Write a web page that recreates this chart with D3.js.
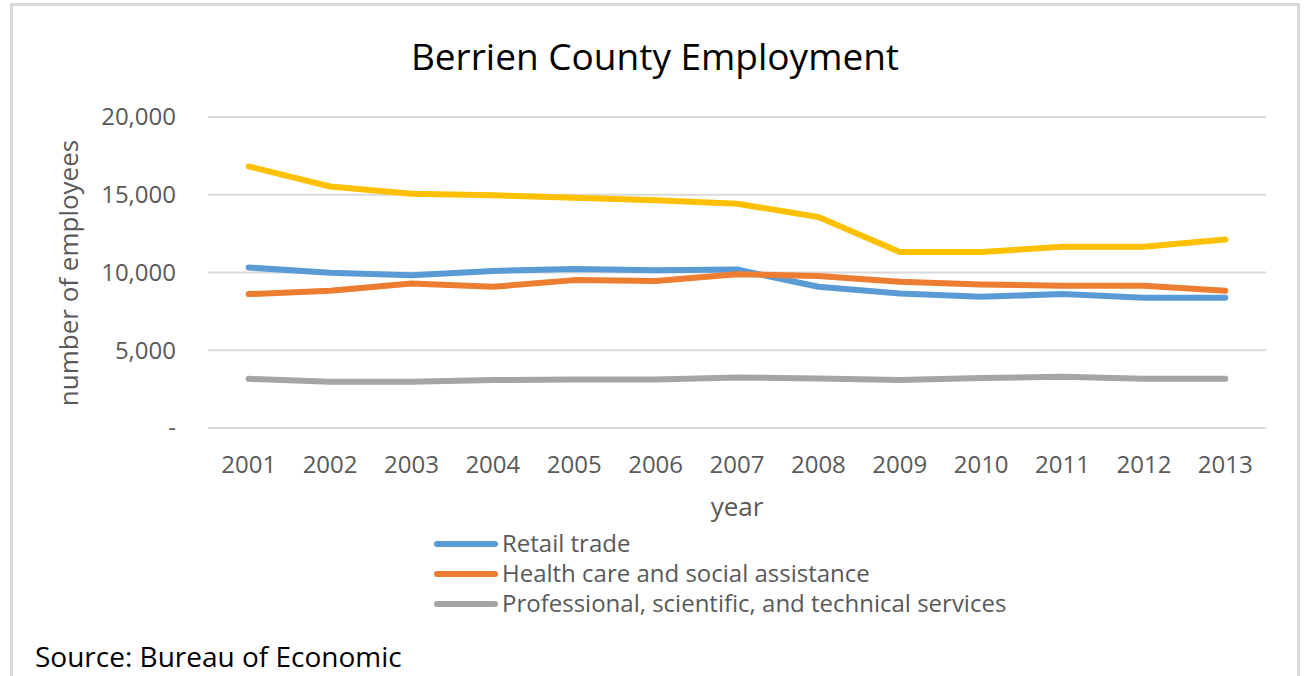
<!DOCTYPE html>
<html>
<head>
<meta charset="utf-8">
<script src="https://cdn.jsdelivr.net/npm/d3@7"></script>
<style>
  html, body { margin: 0; padding: 0; background: #fff; }
  svg { display: block; }
  text { font-family: "Open Sans", "Noto Sans", sans-serif; }
</style>
</head>
<body>
<svg id="chart" width="1306" height="676"></svg>
<script>
const years = ["2001","2002","2003","2004","2005","2006","2007","2008","2009","2010","2011","2012","2013"];
const yTicks = [0, 5000, 10000, 15000, 20000];
const seriesNames = ["Retail trade", "Health care and social assistance", "Professional, scientific, and technical services", "Manufacturing"];
const seriesColors = ["#5B9BD5", "#ED7D31", "#A5A5A5", "#FFC000"];
const retail = [10320, 9980, 9830, 10100, 10230, 10150, 10190, 9080, 8650, 8440, 8610, 8380, 8380];
const health = [8610, 8820, 9290, 9080, 9510, 9450, 9890, 9770, 9400, 9230, 9150, 9150, 8820];
const professional = [3160, 2970, 2970, 3080, 3120, 3120, 3250, 3180, 3080, 3220, 3290, 3160, 3160];
const manufacturing = [16820, 15530, 15060, 14960, 14810, 14640, 14420, 13570, 11320, 11320, 11650, 11650, 12120];
const legendCount = 3; // the fourth series has no visible legend entry

const svg = d3.select("#chart");

// chart frame
svg.append("rect")
  .attr("x", 11.5).attr("y", 4.5)
  .attr("width", 1287).attr("height", 700)
  .attr("fill", "#fff").attr("stroke", "#d9d9d9").attr("stroke-width", 3);

const plot = { left: 208, right: 1266, top: 117, bottom: 428 };

const x = d3.scalePoint().domain(years).range([plot.left, plot.right]).padding(0.5);
const y = d3.scaleLinear().domain([0, 20000]).range([plot.bottom, plot.top]);

// gridlines
svg.append("g").selectAll("line").data(yTicks).join("line")
  .attr("x1", plot.left).attr("x2", plot.right)
  .attr("y1", d => y(d)).attr("y2", d => y(d))
  .attr("stroke", "#d9d9d9").attr("stroke-width", 2);

// y axis labels
const fmt = d3.format(",");
svg.append("g").selectAll("text").data(yTicks).join("text")
  .attr("x", 176).attr("y", d => y(d)).attr("dy", "0.35em")
  .attr("text-anchor", "end").attr("fill", "#595959").attr("font-size", 24)
  .text(d => d === 0 ? "-" : fmt(d));

// x axis labels
svg.append("g").selectAll("text").data(years).join("text")
  .attr("x", d => x(d)).attr("y", 473)
  .attr("text-anchor", "middle").attr("fill", "#595959").attr("font-size", 24)
  .text(d => d);

// axis titles
svg.append("text")
  .attr("transform", "translate(78,273) rotate(-90)")
  .attr("text-anchor", "middle").attr("fill", "#595959").attr("font-size", 26)
  .text("number of employees");
svg.append("text")
  .attr("x", 737).attr("y", 516)
  .attr("text-anchor", "middle").attr("fill", "#595959").attr("font-size", 26)
  .text("year");

// title
svg.append("text")
  .attr("x", 655).attr("y", 70)
  .attr("text-anchor", "middle").attr("fill", "#000").attr("font-size", 37)
  .text("Berrien County Employment");

// lines
const allSeries = [retail, health, professional, manufacturing];
const line = d3.line().x((d, i) => x(years[i])).y(d => y(d));
svg.append("g").selectAll("path").data(allSeries.map((v, i) => ({ v, i }))).join("path")
  .attr("d", d => line(d.v))
  .attr("fill", "none")
  .attr("stroke", d => seriesColors[d.i])
  .attr("stroke-width", 6)
  .attr("stroke-linecap", "round")
  .attr("stroke-linejoin", "round");

// legend
const legend = svg.append("g");
const legendItems = seriesNames.slice(0, legendCount).map((n, i) => ({ n, i }));
legend.selectAll("line").data(legendItems).join("line")
  .attr("x1", 437).attr("x2", 495)
  .attr("y1", d => 544 + d.i * 30).attr("y2", d => 544 + d.i * 30)
  .attr("stroke", d => seriesColors[d.i]).attr("stroke-width", 6)
  .attr("stroke-linecap", "round");
legend.selectAll("text").data(legendItems).join("text")
  .attr("x", 502).attr("y", d => 544 + d.i * 30).attr("dy", "0.35em")
  .attr("fill", "#595959").attr("font-size", 24)
  .text(d => d.n);

// source
svg.append("text")
  .attr("x", 35).attr("y", 667)
  .attr("fill", "#000").attr("font-size", 28)
  .text("Source: Bureau of Economic");
</script>
</body>
</html>
